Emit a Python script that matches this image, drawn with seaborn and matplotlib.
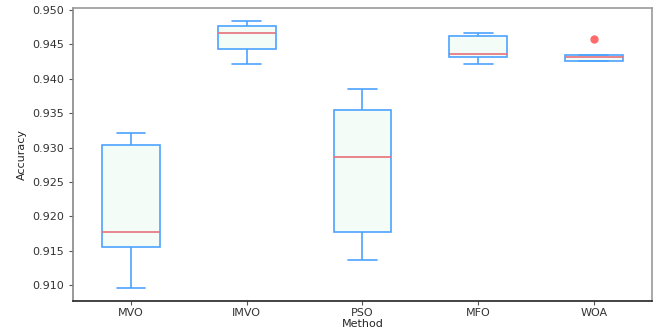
import matplotlib
matplotlib.use("Agg")
import matplotlib.pyplot as plt
import numpy as np
import pandas as pd
import seaborn as sns

# accuracy values (5 or 9 runs per method)
mvo = [0.90956, 0.91548, 0.91771, 0.93036, 0.93215]
imvo = [0.94215, 0.94437, 0.94665, 0.94763, 0.94845]
pso = [0.91369, 0.91776, 0.92857, 0.93541, 0.93856]
mfo = [0.94215, 0.94312, 0.94355, 0.94627, 0.94665]
woa = [0.94258, 0.94258, 0.94258, 0.94290, 0.94312, 0.94330, 0.94350, 0.94350, 0.94578]
methods = ["MVO", "IMVO", "PSO", "MFO", "WOA"]
yticks = [0.910, 0.915, 0.920, 0.925, 0.930, 0.935, 0.940, 0.945, 0.950]

rows = []
for name, vals in zip(methods, [mvo, imvo, pso, mfo, woa]):
    for v in vals:
        rows.append({"Method": name, "Accuracy": v})
df = pd.DataFrame(rows)

sns.set_style("white")
plt.rcParams["font.family"] = ["DejaVu Sans"]

fig = plt.figure(figsize=(6.59, 3.33), dpi=100)
ax = fig.add_axes([0.111, 0.096, 0.878, 0.881])

edge = "#4da3ff"
sns.boxplot(data=df, x="Method", y="Accuracy", order=methods, ax=ax,
            width=0.5, color="#f3fcf6", linewidth=1.2,
            boxprops=dict(facecolor="#f3fcf6", edgecolor=edge),
            whiskerprops=dict(color=edge),
            capprops=dict(color=edge),
            medianprops=dict(color="#e8707a", linewidth=1.2),
            flierprops=dict(marker="o", markerfacecolor="#ff6b6b",
                            markeredgecolor="#ff6b6b", markersize=5))

ax.set_ylim(0.90767, 0.95036)
ax.set_xlim(-0.5, 4.5)
ax.set_yticks(yticks)
ax.set_yticklabels([f"{t:.3f}" for t in yticks])
ax.tick_params(axis="both", labelsize=8, length=3, color="#555555",
               left=True, bottom=True, colors="#333333")
ax.tick_params(axis="x", pad=2)
ax.set_xlabel("Method", fontsize=8, labelpad=1)
ax.set_ylabel("Accuracy", fontsize=8)

for s in ["top", "right"]:
    ax.spines[s].set_color("#999999")
ax.spines["left"].set_color("#888888")
ax.spines["bottom"].set_color("#222222")
for s in ax.spines.values():
    s.set_linewidth(1.2)

fig.savefig("out.png", dpi=100)
